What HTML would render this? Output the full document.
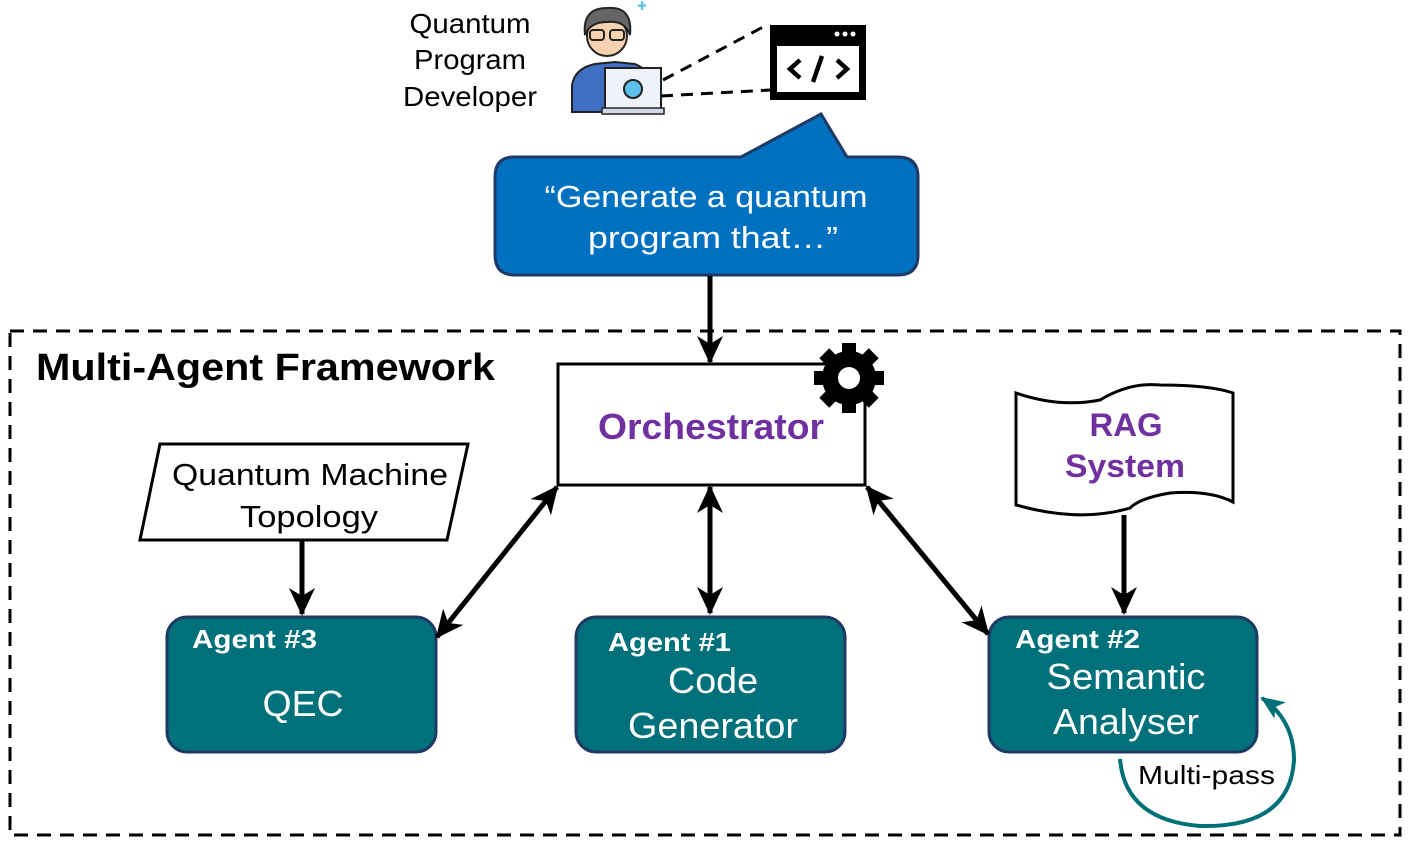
<!DOCTYPE html>
<html><head><meta charset="utf-8"><style>
html,body{margin:0;padding:0;background:#fff;}
svg{display:block;font-family:"Liberation Sans",Arial,sans-serif;}
</style></head><body>
<svg width="1412" height="852" viewBox="0 0 1412 852" xmlns="http://www.w3.org/2000/svg">
<defs>
<marker id="ahb" viewBox="0 0 28 28" markerWidth="28" markerHeight="28" refX="26" refY="14" orient="auto-start-reverse" markerUnits="userSpaceOnUse">
<path d="M0,1 L28,14 L0,27 L8,14 z" fill="#000"/>
</marker>
<marker id="aht" viewBox="0 0 24 24" markerWidth="24" markerHeight="24" refX="22" refY="12" orient="auto" markerUnits="userSpaceOnUse">
<path d="M0,2 L24,12 L0,22 L6,12 z" fill="#007078"/>
</marker>
</defs>

<rect x="10" y="331" width="1390" height="504" fill="none" stroke="#000" stroke-width="3" stroke-dasharray="14,9"/>
<text x="36" y="380" font-size="38" font-weight="bold" textLength="459" lengthAdjust="spacingAndGlyphs">Multi-Agent Framework</text>

<g font-size="28" text-anchor="middle">
<text x="470" y="33" textLength="121" lengthAdjust="spacingAndGlyphs">Quantum</text>
<text x="470" y="69" textLength="112" lengthAdjust="spacingAndGlyphs">Program</text>
<text x="470" y="106" textLength="134" lengthAdjust="spacingAndGlyphs">Developer</text>
</g>
<g>
<path d="M572,112 L572,85 Q575,68 595,64 L615,62 L635,64 Q650,70 652,85 L652,112 Z" fill="#3f6fc2" stroke="#222" stroke-width="2"/>
<circle cx="607" cy="36" r="20" fill="#f7d2b0" stroke="#222" stroke-width="2"/>
<path d="M585,35 Q582,8 607,8 Q633,6 630,35 Q625,20 607,22 Q590,22 585,35 Z" fill="#666" stroke="#222" stroke-width="2"/>
<rect x="590" y="30" width="14" height="10" rx="3" fill="none" stroke="#222" stroke-width="2"/>
<rect x="610" y="30" width="14" height="10" rx="3" fill="none" stroke="#222" stroke-width="2"/>
<rect x="605" y="68" width="56" height="42" fill="#eef2fa" stroke="#222" stroke-width="2"/>
<rect x="602" y="108" width="62" height="6" fill="#cfd8e8" stroke="#222" stroke-width="1.5"/>
<circle cx="633" cy="89" r="9" fill="#5bc0eb" stroke="#222" stroke-width="2"/>
<text x="637" y="10" font-size="12" fill="#5bc0eb">✚</text>
</g>
<line x1="663" y1="80" x2="765" y2="26" stroke="#000" stroke-width="3" stroke-dasharray="12,8"/>
<line x1="661" y1="96" x2="770" y2="90" stroke="#000" stroke-width="3" stroke-dasharray="12,8"/>
<rect x="770" y="25" width="96" height="75" fill="#000"/>
<rect x="777" y="46" width="82" height="46" fill="#fff"/>
<circle cx="837" cy="34" r="2.5" fill="#fff"/><circle cx="845" cy="34" r="2.5" fill="#fff"/><circle cx="853" cy="34" r="2.5" fill="#fff"/>
<path d="M800,60 L790,69 L800,78 M837,60 L847,69 L837,78 M822,56 L813,82" fill="none" stroke="#000" stroke-width="4.5"/>

<path d="M514,157 L741,157 L821,114 L847,157 L898,157 Q918,157 918,177 L918,255 Q918,275 898,275 L515,275 Q495,275 495,255 L495,177 Q495,157 514,157 Z" fill="#0070c0" stroke="#1f3864" stroke-width="3"/>
<g font-size="31" fill="#fff" text-anchor="middle">
<text x="706" y="207" textLength="323" lengthAdjust="spacingAndGlyphs">“Generate a quantum</text>
<text x="713" y="248" textLength="250" lengthAdjust="spacingAndGlyphs">program that…”</text>
</g>

<rect x="558" y="364" width="307" height="121" fill="#fff" stroke="#000" stroke-width="3"/>
<text x="711" y="439" font-size="36" font-weight="bold" fill="#7030a0" text-anchor="middle" textLength="226" lengthAdjust="spacingAndGlyphs">Orchestrator</text>
<g transform="translate(849,378)">
<g fill="#000">
<rect x="-7" y="-35" width="14" height="70"/>
<rect x="-7" y="-35" width="14" height="70" transform="rotate(45)"/>
<rect x="-7" y="-35" width="14" height="70" transform="rotate(90)"/>
<rect x="-7" y="-35" width="14" height="70" transform="rotate(135)"/>
<circle r="27"/>
</g>
<circle r="11" fill="#fff"/>
</g>

<polygon points="160,444 468,444 447,540 140,540" fill="#fff" stroke="#000" stroke-width="3"/>
<g font-size="31" text-anchor="middle">
<text x="310" y="485" textLength="276" lengthAdjust="spacingAndGlyphs">Quantum Machine</text>
<text x="309" y="527" textLength="138" lengthAdjust="spacingAndGlyphs">Topology</text>
</g>

<path d="M1016,393 Q1060,408 1100,400 Q1130,382 1160,385 Q1210,385 1233,393 L1233,502 Q1210,490 1170,493 Q1140,498 1130,508 Q1080,523 1016,505 Z" fill="#fff" stroke="#000" stroke-width="3"/>
<g font-size="32" font-weight="bold" fill="#7030a0" text-anchor="middle">
<text x="1126" y="436" textLength="73" lengthAdjust="spacingAndGlyphs">RAG</text>
<text x="1125" y="477" textLength="120" lengthAdjust="spacingAndGlyphs">System</text>
</g>

<g stroke="#1f3864" stroke-width="3" fill="#00707a">
<rect x="167" y="617" width="269" height="135" rx="20"/>
<rect x="576" y="617" width="269" height="135" rx="20"/>
<rect x="989" y="617" width="268" height="135" rx="20"/>
</g>
<g fill="#fff">
<text x="192" y="648" font-size="26" font-weight="bold" textLength="125" lengthAdjust="spacingAndGlyphs">Agent #3</text>
<text x="303" y="716" font-size="36" text-anchor="middle" textLength="81" lengthAdjust="spacingAndGlyphs">QEC</text>
<text x="608" y="651" font-size="26" font-weight="bold" textLength="123" lengthAdjust="spacingAndGlyphs">Agent #1</text>
<text x="713" y="693" font-size="36" text-anchor="middle" textLength="90" lengthAdjust="spacingAndGlyphs">Code</text>
<text x="713" y="738" font-size="36" text-anchor="middle" textLength="170" lengthAdjust="spacingAndGlyphs">Generator</text>
<text x="1015" y="648" font-size="26" font-weight="bold" textLength="125" lengthAdjust="spacingAndGlyphs">Agent #2</text>
<text x="1126" y="689" font-size="36" text-anchor="middle" textLength="159" lengthAdjust="spacingAndGlyphs">Semantic</text>
<text x="1126" y="734" font-size="36" text-anchor="middle" textLength="146" lengthAdjust="spacingAndGlyphs">Analyser</text>
</g>

<g stroke="#000" stroke-width="5" fill="none">
<line x1="710" y1="276" x2="710" y2="362" marker-end="url(#ahb)"/>
<line x1="710" y1="487" x2="710" y2="613" marker-start="url(#ahb)" marker-end="url(#ahb)"/>
<line x1="557" y1="487" x2="437" y2="637" marker-start="url(#ahb)" marker-end="url(#ahb)"/>
<line x1="867" y1="487" x2="988" y2="634" marker-start="url(#ahb)" marker-end="url(#ahb)"/>
<line x1="302" y1="541" x2="302" y2="614" marker-end="url(#ahb)"/>
<line x1="1124" y1="515" x2="1124" y2="613" marker-end="url(#ahb)"/>
</g>

<path d="M1120,759 Q1125,820 1200,826 Q1290,828 1294,760 Q1294,720 1262,698" fill="none" stroke="#007078" stroke-width="4" marker-end="url(#aht)"/>
<text x="1138" y="784" font-size="26" textLength="137" lengthAdjust="spacingAndGlyphs">Multi-pass</text>
</svg>
</body></html>
